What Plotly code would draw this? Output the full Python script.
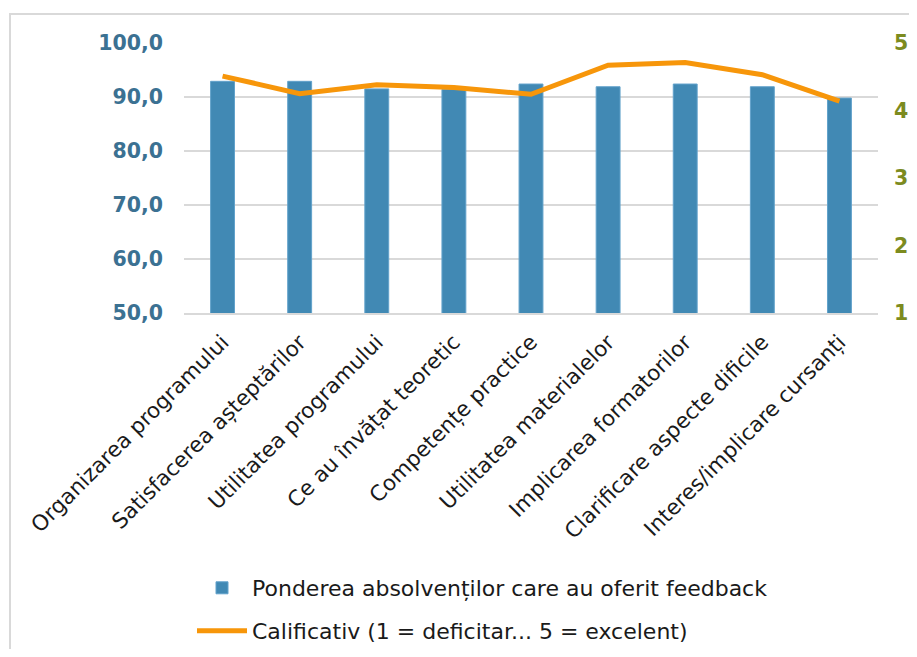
import plotly.graph_objects as go

categories = [
    "Organizarea programului",
    "Satisfacerea a\u0219tept\u0103rilor",
    "Utilitatea programului",
    "Ce au \u00eenv\u0103\u021bat teoretic",
    "Competen\u021be practice",
    "Utilitatea materialelor",
    "Implicarea formatorilor",
    "Clarificare aspecte dificile",
    "Interes/implicare cursan\u021bi",
]
pondere = [92.9, 92.9, 91.5, 91.4, 92.4, 91.9, 92.4, 91.9, 89.8]
calificativ = [4.51, 4.25, 4.38, 4.34, 4.24, 4.67, 4.71, 4.53, 4.14]

left_ticks = [50, 60, 70, 80, 90, 100]
right_ticks = [1, 2, 3, 4, 5]

name_bar = "Ponderea absolven\u021bilor care au oferit feedback"
name_line = "Calificativ (1 = deficitar... 5 = excelent)"

FONT = "DejaVu Sans"
OFF = 8  # page body margin
W, H = 917 - 2 * OFF, 657 - 2 * OFF
L = 184 - OFF
T = 43 - OFF
PLOT_R = 878 - OFF
PLOT_B = 313 - OFF
R = W - PLOT_R
B = H - PLOT_B
PW, PH = W - L - R, H - T - B


def px_x(px):
    return (px - OFF - L) / PW


def px_y(py):
    return (PLOT_B - (py - OFF)) / PH


fig = go.Figure()
fig.add_trace(go.Bar(
    x=categories, y=pondere, name=name_bar,
    marker=dict(color="#4189B4", line=dict(color="#62A2CB", width=1)),
    yaxis="y", legend="legend",
))
fig.add_trace(go.Scatter(
    x=categories, y=calificativ, name=name_line, mode="lines",
    line=dict(color="#F7960A", width=5),
    yaxis="y2", legend="legend2",
))

fig.update_layout(
    width=W, height=H,
    margin=dict(l=L, r=R, t=T, b=B, autoexpand=False),
    paper_bgcolor="white", plot_bgcolor="white",
    separators=", ",
    bargap=0.69,
    showlegend=True,
    font=dict(family=FONT, color="#1a1a1a"),
    xaxis=dict(
        type="category",
        tickangle=-45,
        tickfont=dict(size=21.5, color="#1a1a1a", family=FONT),
        showgrid=False,
        showline=True, linecolor="#D9D9D9", linewidth=2,
        ticks="",
        ticklabelstandoff=6,
    ),
    yaxis=dict(
        range=[50, 100],
        tickvals=left_ticks,
        tickformat=".1f",
        tickfont=dict(size=20.5, color="#3B7192", family=FONT, weight="bold"),
        showgrid=True, gridcolor="#D9D9D9", gridwidth=2,
        zeroline=False, showline=False, ticks="",
        ticklabelstandoff=20,
    ),
    yaxis2=dict(
        range=[1, 5],
        tickvals=right_ticks,
        overlaying="y", side="right",
        tickfont=dict(size=20.5, color="#7C8B1F", family=FONT, weight="bold"),
        showgrid=False, zeroline=False, showline=False, ticks="",
        ticklabelstandoff=15,
    ),
    legend=dict(
        x=px_x(192), y=px_y(588), xanchor="left", yanchor="middle",
        font=dict(size=22, color="#1a1a1a", family=FONT),
        bgcolor="rgba(0,0,0,0)", itemwidth=50,
    ),
    legend2=dict(
        x=px_x(192), y=px_y(631), xanchor="left", yanchor="middle",
        font=dict(size=22, color="#1a1a1a", family=FONT),
        bgcolor="rgba(0,0,0,0)", itemwidth=50,
    ),
    shapes=[dict(
        type="rect", xref="paper", yref="paper",
        x0=px_x(10), x1=px_x(930), y0=px_y(670), y1=px_y(14),
        line=dict(color="#D9D9D9", width=2), fillcolor="rgba(0,0,0,0)",
        layer="below",
    )],
    hovermode=False,
)

fig.write_html("out.html")
